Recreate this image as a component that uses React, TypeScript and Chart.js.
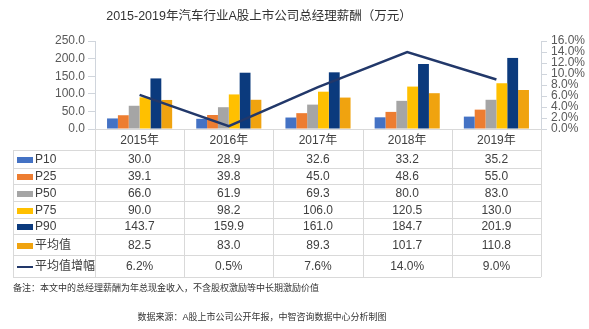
import React, { useEffect, useRef } from "react";
import { Chart, registerables } from "chart.js";

Chart.register(...registerables);

const categories = ["2015年", "2016年", "2017年", "2018年", "2019年"];
const seriesNames = ["P10", "P25", "P50", "P75", "P90", "平均值"];
const p10 = [30.0, 28.9, 32.6, 33.2, 35.2];
const p25 = [39.1, 39.8, 45.0, 48.6, 55.0];
const p50 = [66.0, 61.9, 69.3, 80.0, 83.0];
const p75 = [90.0, 98.2, 106.0, 120.5, 130.0];
const p90 = [143.7, 159.9, 161.0, 184.7, 201.9];
const avg = [82.5, 83.0, 89.3, 101.7, 110.8];
const growthName = "平均值增幅";
const avgGrowth = [6.2, 0.5, 7.6, 14.0, 9.0];
const leftAxis = { min: 0, max: 250, step: 50 };
const rightAxis = { min: 0, max: 16, step: 2 };
const titleText = "2015-2019年汽车行业A股上市公司总经理薪酬（万元）";
const noteText = "备注：本文中的总经理薪酬为年总现金收入，不含股权激励等中长期激励价值";
const sourceText = "数据来源：A股上市公司公开年报，中智咨询数据中心分析制图";

const barColors = ["#4472C4", "#ED7D31", "#A5A5A5", "#FFC000", "#0B3A7D", "#F0A30F"];
const lineColor = "#22386A";
const FONT = '"Liberation Sans", "Noto Sans CJK SC", sans-serif';

const tablePlugin = {
  id: "tablePlugin",
  afterDraw(chart: any) {
    const ctx = chart.ctx;
    const { left, right, bottom } = chart.chartArea;
    const xs = chart.scales.x;
    const n = categories.length;
    const colW = (right - left) / n;
    const tableLeft = 13;
    const rowLines = [150, 168, 184, 201, 218, 234, 255, 277];
    const tableBottom = rowLines[rowLines.length - 1];
    ctx.save();
    ctx.strokeStyle = "#d9d9d9";
    ctx.lineWidth = 1;
    ctx.beginPath();
    ctx.moveTo(left, Math.round(bottom) + 0.5);
    ctx.lineTo(right, Math.round(bottom) + 0.5);
    ctx.stroke();
    for (let i = 0; i <= n; i++) {
      const x = Math.round(left + colW * i) + 0.5;
      ctx.beginPath();
      ctx.moveTo(x, bottom);
      ctx.lineTo(x, tableBottom);
      ctx.stroke();
    }
    ctx.beginPath();
    ctx.moveTo(tableLeft + 0.5, rowLines[0]);
    ctx.lineTo(tableLeft + 0.5, tableBottom);
    ctx.stroke();
    for (const y of rowLines) {
      ctx.beginPath();
      ctx.moveTo(tableLeft, y + 0.5);
      ctx.lineTo(right, y + 0.5);
      ctx.stroke();
    }
    ctx.fillStyle = "#404040";
    ctx.font = "12px " + FONT;
    ctx.textAlign = "center";
    ctx.textBaseline = "middle";
    categories.forEach((c, i) => {
      ctx.fillText(c, xs.getPixelForValue(i), (bottom + rowLines[0]) / 2 + 1);
    });
    const barData = [p10, p25, p50, p75, p90, avg];
    const allRows = [
      ...barData.map((d, k) => ({ name: seriesNames[k], vals: d.map((v) => v.toFixed(1)), color: barColors[k], line: false })),
      { name: growthName, vals: avgGrowth.map((v) => v.toFixed(1) + "%"), color: lineColor, line: true },
    ];
    allRows.forEach((r, k) => {
      const yc = (rowLines[k] + rowLines[k + 1]) / 2 + 1;
      ctx.fillStyle = r.color;
      if (r.line) {
        ctx.fillRect(17, Math.round(yc) - 1, 16, 2);
      } else {
        ctx.fillRect(17, Math.round(yc) - 3, 16, 6);
      }
      ctx.fillStyle = "#404040";
      ctx.textAlign = "left";
      ctx.fillText(r.name, 35, yc);
      ctx.textAlign = "center";
      r.vals.forEach((v, i) => ctx.fillText(v, xs.getPixelForValue(i), yc));
    });
    ctx.fillStyle = "#333333";
    ctx.font = "12.5px " + FONT;
    ctx.textAlign = "center";
    ctx.fillText(titleText, 259, 17);
    ctx.font = "9px " + FONT;
    ctx.textAlign = "left";
    ctx.fillText(noteText, 13, 289);
    ctx.textAlign = "center";
    ctx.fillText(sourceText, 262, 318);
    ctx.restore();
  },
};

export default function App() {
  const ref = useRef<HTMLCanvasElement>(null);
  useEffect(() => {
    document.body.style.margin = "0";
    const barSets = [p10, p25, p50, p75, p90, avg].map((d, k) => ({
      type: "bar" as const,
      label: seriesNames[k],
      data: d,
      backgroundColor: barColors[k],
      yAxisID: "y",
      order: 1,
      categoryPercentage: 0.73,
      barPercentage: 1.0,
    }));
    const chart = new Chart(ref.current!, {
      type: "bar",
      data: {
        labels: categories,
        datasets: [
          {
            type: "line" as const,
            label: growthName,
            data: avgGrowth,
            borderColor: lineColor,
            borderWidth: 2.5,
            pointRadius: 0,
            yAxisID: "y1",
            order: 0,
          } as any,
          ...barSets,
        ],
      },
      options: {
        animation: false,
        responsive: true,
        maintainAspectRatio: false,
        layout: { padding: { top: 41, bottom: 200, left: 0, right: 0 } },
        plugins: { legend: { display: false }, title: { display: false }, tooltip: { enabled: false } },
        scales: {
          x: { display: false, offset: true },
          y: {
            position: "left",
            min: leftAxis.min,
            max: leftAxis.max,
            afterFit: (s: any) => { s.width = 95; },
            border: { display: true, color: "#d0d5dc" },
            grid: { drawOnChartArea: false, drawTicks: true, tickLength: 7, color: "#d0d5dc" },
            ticks: {
              stepSize: leftAxis.step,
              color: "#595959",
              font: { size: 12, family: FONT },
              padding: 3,
              callback: (v: any) => Number(v).toFixed(1),
            },
          },
          y1: {
            position: "right",
            min: rightAxis.min,
            max: rightAxis.max,
            afterFit: (s: any) => { s.width = 48; },
            border: { display: true, color: "#d0d5dc" },
            grid: { drawOnChartArea: false, drawTicks: true, tickLength: 6, color: "#d0d5dc" },
            ticks: {
              stepSize: rightAxis.step,
              autoSkip: false,
              color: "#595959",
              font: { size: 12, family: FONT, lineHeight: 1 },
              padding: 4,
              callback: (v: any) => Number(v).toFixed(1) + "%",
            },
          },
        },
      },
      plugins: [tablePlugin],
    });
    return () => chart.destroy();
  }, []);
  return (
    <div style={{ position: "fixed", left: 0, top: 0, width: 589, height: 329, background: "#fff" }}>
      <canvas ref={ref} />
    </div>
  );
}
